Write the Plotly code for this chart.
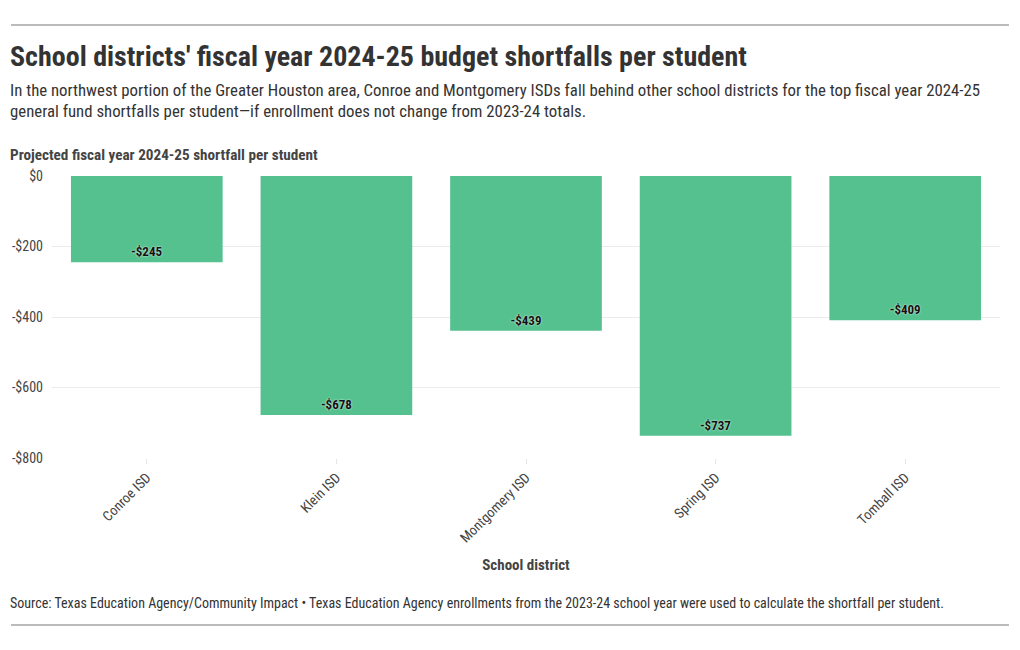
import plotly.graph_objects as go

districts = ["Conroe ISD", "Klein ISD", "Montgomery ISD", "Spring ISD", "Tomball ISD"]
shortfall = [-245, -678, -439, -737, -409]
labels = ["-$245", "-$678", "-$439", "-$737", "-$409"]
y_ticks = [0, -200, -400, -600, -800]
y_tick_text = ["$0", "-$200", "-$400", "-$600", "-$800"]

FONT = "Roboto Condensed, Roboto, Arial Narrow, sans-serif"
fig = go.Figure()
fig.add_trace(go.Bar(
    x=districts, y=shortfall, text=labels, textposition="inside",
    insidetextanchor="end", textangle=0,
    marker=dict(color="#55c18f", line=dict(width=0)),
    textfont=dict(family=FONT, size=13, color="#111111", weight="bold",
                  shadow="0px 0px 2px #ffffff"),
    cliponaxis=False, hoverinfo="skip",
))

fig.update_layout(
    width=1020, height=650, paper_bgcolor="white", plot_bgcolor="white",
    margin=dict(l=52, r=20, t=176, b=192),
    bargap=0.2, showlegend=False,
    font=dict(family=FONT, color="#333333"),
    xaxis=dict(tickangle=-45, tickfont=dict(size=14, color="#444444"),
               ticks="outside", ticklen=5, tickcolor="#e6e6e6",
               showgrid=False, showline=False, zeroline=False,
               title=dict(text="<b>School district</b>", font=dict(size=15, color="#444444"), standoff=14)),
    yaxis=dict(range=[-800, 0], tickvals=y_ticks, ticktext=y_tick_text,
               tickfont=dict(size=14, color="#444444"), showgrid=True,
               gridcolor="#ebebeb", zeroline=False, showline=False, ticks="",
               ticklabelstandoff=8),
)

fig.add_shape(type="line", xref="paper", yref="paper", x0=-41/948, x1=957/948,
              y0=1 + 151/282, y1=1 + 151/282, line=dict(color="#777777", width=1))
fig.add_shape(type="line", xref="paper", yref="paper", x0=-41/948, x1=957/948,
              y0=-167/282, y1=-167/282, line=dict(color="#777777", width=1))

def ann(text, y_px, size, color="#333333"):
    fig.add_annotation(text=text, xref="paper", yref="paper", x=-44/948,
                       y=1 + (176 - y_px) / 282, xanchor="left", yanchor="middle",
                       showarrow=False, align="left",
                       font=dict(family=FONT, size=size, color=color))

ann("<b>School districts' fiscal year 2024-25 budget shortfalls per student</b>", 56, 28, "#333333")
ann("In the northwest portion of the Greater Houston area, Conroe and Montgomery ISDs fall behind other school districts for the top fiscal year 2024-25", 90, 16.8)
ann("general fund shortfalls per student—if enrollment does not change from 2023-24 totals.", 111, 16.8)
ann("<b>Projected fiscal year 2024-25 shortfall per student</b>", 155, 15.2, "#444444")
ann("Source: Texas Education Agency/Community Impact • Texas Education Agency enrollments from the 2023-24 school year were used to calculate the shortfall per student.", 603, 14)

fig.write_html("out.html")
